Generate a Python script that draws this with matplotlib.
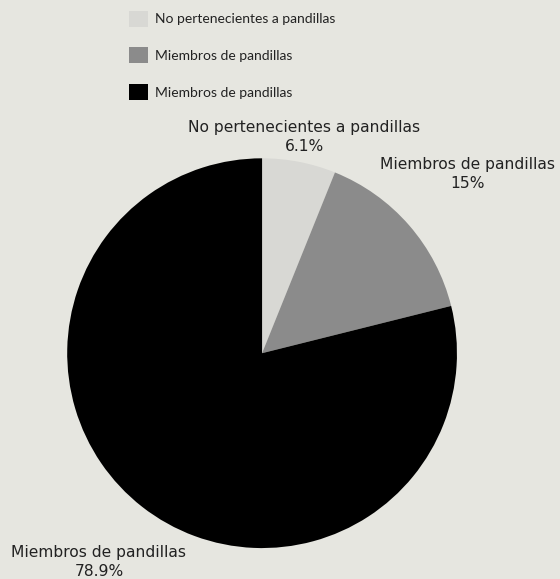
import numpy as np
import matplotlib.pyplot as plt

labels = ["No pertenecientes a pandillas", "Miembros de pandillas", "Miembros de pandillas"]
values = [6.1, 15.0, 78.9]
pct_text = ["6.1%", "15%", "78.9%"]
colors = ["#d8d8d4", "#8b8b8b", "#000000"]
label_dist = [1.13, 1.40, 1.36]

bg = "#e6e6e0"
plt.rcParams['font.family'] = ['Lato', 'DejaVu Sans']

fig = plt.figure(figsize=(5.6, 5.79), dpi=100, facecolor=bg)
ax = fig.add_axes([0.468 - 0.348, 0.390 - 0.337, 0.696, 0.674])
ax.set_facecolor(bg)

wedges, _ = ax.pie(values, colors=colors, startangle=90, counterclock=False,
                   radius=1, wedgeprops=dict(linewidth=0))
ax.set_xlim(-1, 1)
ax.set_ylim(-1, 1)
ax.set_aspect("equal")
ax.axis("off")

for w, lab, pt, d in zip(wedges, labels, pct_text, label_dist):
    ang = np.deg2rad((w.theta1 + w.theta2) / 2)
    ax.text(d * np.cos(ang), d * np.sin(ang), lab + "\n" + pt, ha="center", va="center",
            fontsize=11.2, family="DejaVu Sans", color="#222222", linespacing=1.35,
            clip_on=False)

leg = fig.legend(wedges, labels, loc="upper left", bbox_to_anchor=(116 / 560, 1 + 2 / 579),
                 frameon=False, fontsize=10, handlelength=1.4, handleheight=1.4,
                 labelspacing=1.5, handletextpad=0.5)
for t in leg.get_texts():
    t.set_color("#222222")

fig.savefig("out.png", dpi=100, facecolor=bg)
